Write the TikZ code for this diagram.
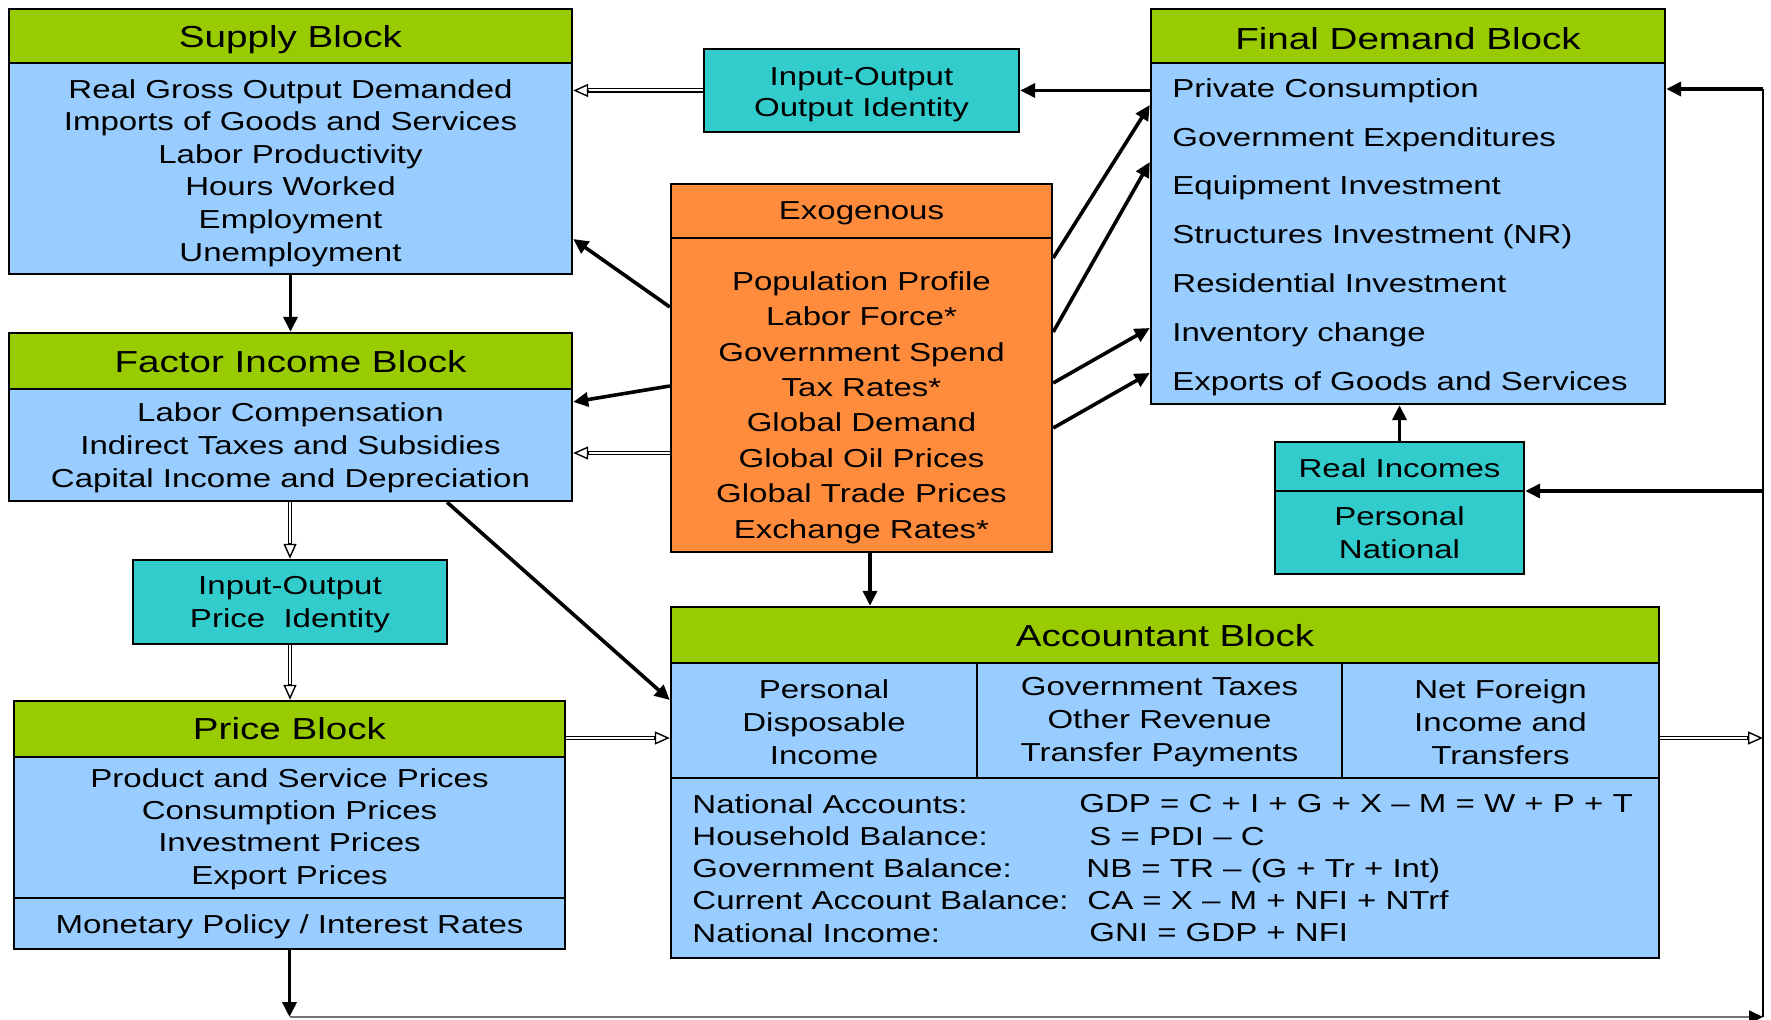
\documentclass[tikz,border=0pt]{standalone}
\usepackage{fontspec}
\setmainfont{Liberation Sans}[FakeStretch=1.27]
\usetikzlibrary{arrows.meta,fit,calc}
\definecolor{hdrgreen}{RGB}{153,204,0}
\definecolor{bodyblue}{RGB}{153,204,255}
\definecolor{tealbox}{RGB}{51,204,204}
\definecolor{orng}{RGB}{255,140,60}
\begin{document}
\begin{tikzpicture}[x=0.5pt,y=-0.5pt,
  box/.style={draw=black,line width=1.2pt,inner sep=0pt},
  hdr/.style={box,fill=hdrgreen},
  bdy/.style={box,fill=bodyblue},
  tbx/.style={box,fill=tealbox},
  obx/.style={box,fill=orng},
  sep/.style={line width=0.9pt},
  txt/.style={font=\fontsize{13}{16.3}\selectfont,inner sep=0pt,align=center,yshift=-1.7pt},
  ttl/.style={font=\fontsize{15.2}{18}\selectfont,inner sep=0pt,yshift=-1.5pt},
  arr/.style={line width=1.8pt,-{Triangle[length=7.5pt,width=7pt]}},
  dbl/.style={draw=black,line width=0.55pt,double=white,double distance=1pt,shorten >=5pt},
  otip/.style={line width=0.7pt,-{Triangle[open,length=7.5pt,width=6.5pt,fill=white]}},
]
\useasboundingbox (0,0) rectangle (1771,1020);
\newcommand\hollowarrow[2]{\draw[dbl] (#1) -- (#2); \draw[otip] ($(#2)!8pt!(#1)$) -- (#2);}

% ---------- boxes ----------
\node[bdy,fit={(9,9)(572,274)}] (supply) {};
\node[hdr,fit={(9,9)(572,63)}] (supplyhdr) {};

\node[tbx,fit={(704,49)(1019,132)}] (ioout) {};

\node[bdy,fit={(1151,9)(1665,404)}] (fd) {};
\node[hdr,fit={(1151,9)(1665,63)}] (fdhdr) {};

\node[obx,fit={(671,184)(1052,552)}] (exo) {};
\draw[sep] (exo.west |- 0,238) -- (exo.east |- 0,238);

\node[bdy,fit={(9,333)(572,501)}] (fi) {};
\node[hdr,fit={(9,333)(572,389)}] (fihdr) {};

\node[tbx,fit={(133,560)(447,644)}] (iop) {};

\node[bdy,fit={(14,701)(565,949)}] (price) {};
\node[hdr,fit={(14,701)(565,757)}] (pricehdr) {};
\draw[sep] (price.west |- 0,898) -- (price.east |- 0,898);

\node[tbx,fit={(1275,442)(1524,574)}] (ri) {};
\draw[sep] (ri.west |- 0,491) -- (ri.east |- 0,491);

\node[bdy,fit={(671,607)(1659,958)}] (acc) {};
\node[hdr,fit={(671,607)(1659,663)}] (acchdr) {};
\node[bdy,fit={(671,663)(977,778)}] (accs1) {};
\node[bdy,fit={(977,663)(1342,778)}] (accs2) {};
\node[bdy,fit={(1342,663)(1659,778)}] (accs3) {};

% ---------- texts ----------
\node[ttl] (tsup) at (290.5,37) {Supply Block};
\node[txt] (bsup) at (290.5,169.5) {Real Gross Output Demanded\\Imports of Goods and Services\\Labor Productivity\\Hours Worked\\Employment\\Unemployment};

\node[txt,font=\fontsize{13}{15.5}\selectfont] (tioout) at (861.5,91.5) {Input-Output\\Output Identity};

\node[ttl] (tfd) at (1408,35.5) {Final Demand Block};
\node[txt,align=left,anchor=west,font=\fontsize{13}{24.4}\selectfont] (bfd) at (1172,233.5) {Private Consumption\\Government Expenditures\\Equipment Investment\\Structures Investment (NR)\\Residential Investment\\Inventory change\\Exports of Goods and Services};

\node[txt] (texo) at (861.5,210) {Exogenous};
\node[txt,font=\fontsize{13}{17.7}\selectfont] (bexo) at (861.5,404) {Population Profile\\Labor Force*\\Government Spend\\Tax Rates*\\Global Demand\\Global Oil Prices\\Global Trade Prices\\Exchange Rates*};

\node[ttl] (tfi) at (290.5,359) {Factor Income Block};
\node[txt,font=\fontsize{13}{16.5}\selectfont] (bfi) at (290.5,444) {Labor Compensation\\Indirect Taxes and Subsidies\\Capital Income and Depreciation};

\node[txt,font=\fontsize{13}{16.5}\selectfont] (tiop) at (290,601.5) {Input-Output\\Price\ \ Identity};

\node[ttl] (tprice) at (289.5,726) {Price Block};
\node[txt,font=\fontsize{13}{16.2}\selectfont] (bprice) at (289.5,825.5) {Product and Service Prices\\Consumption Prices\\Investment Prices\\Export Prices};
\node[txt] (mprice) at (289.5,923) {Monetary Policy / Interest Rates};

\node[txt] (tri) at (1399.5,465) {Real Incomes};
\node[txt,font=\fontsize{13}{16.5}\selectfont] (bri) at (1399.5,529.5) {Personal\\National};

\node[ttl] (tacc) at (1165,633) {Accountant Block};
\node[txt,font=\fontsize{13}{16.5}\selectfont] (ts1) at (824,719) {Personal\\Disposable\\Income};
\node[txt,font=\fontsize{13}{16.5}\selectfont] (ts2) at (1159.5,719) {Government Taxes\\Other Revenue\\Transfer Payments};
\node[txt,font=\fontsize{13}{16.5}\selectfont] (ts3) at (1500.5,719) {Net Foreign\\Income and\\Transfers};
\node[txt,align=left,anchor=west,font=\fontsize{13}{16.1}\selectfont] (eql) at (692,865) {National Accounts:\\Household Balance:\\Government Balance:\\Current Account Balance:\\National Income:};
\node[txt,align=left,anchor=west,font=\fontsize{13}{16.1}\selectfont] (eqr) at (1079,865) {GDP = C + I + G + X – M = W + P + T\\\hspace*{5pt}S = PDI – C\\\hspace*{3.5pt}NB = TR – (G + Tr + Int)\\\hspace*{4pt}CA = X – M + NFI + NTrf\\\hspace*{5pt}GNI = GDP + NFI};

% ---------- connectors ----------
\coordinate (h1) at (ioout.west -| supply.east);
\hollowarrow{ioout.west}{h1}
\draw[arr] (ioout.east -| fd.west) -- (ioout.east);

\draw[arr] (exo.west |- 0,307) -- (supply.east |- 0,239);
\draw[arr] (exo.west |- 0,386) -- (fi.east |- 0,402);
\coordinate (e5s) at (exo.west |- 0,453);
\coordinate (e5t) at (fi.east |- 0,453);
\hollowarrow{e5s}{e5t}

\draw[arr] (supply.south) -- (supply.south |- fi.north);
\coordinate (h7) at (fi.south -| iop.north);
\coordinate (h7t) at (iop.north);
\hollowarrow{h7}{h7t}
\coordinate (h8t) at (iop.south |- price.north);
\hollowarrow{iop.south}{h8t}

\draw[arr] (fi.south -| 447,0) -- (acc.west |- 0,700);
\coordinate (h10s) at (price.east |- 0,738);
\coordinate (h10t) at (acc.west |- 0,738);
\hollowarrow{h10s}{h10t}

\draw[arr] (exo.south -| 870,0) -- (acc.north -| 870,0);

\draw[arr] (exo.east |- 0,258) -- (fd.west |- 0,105);
\draw[arr] (exo.east |- 0,332) -- (fd.west |- 0,162);
\draw[arr] (exo.east |- 0,383) -- (fd.west |- 0,328);
\draw[arr] (exo.east |- 0,428) -- (fd.west |- 0,373);

\draw[arr] (ri.north) -- (ri.north |- fd.south);

\coordinate (rt) at (1763,89);
\coordinate (rb) at (1763,1017);
\coordinate (lb) at (price.south |- rb);
\draw[arr] (price.south) -- (lb);
\draw[line width=0.8pt,draw=black!55,-{Triangle[length=7pt,width=6.5pt,color=black]}] (lb) -- (rb);
\draw[line width=1.2pt] (rb) -- (rt);
\draw[arr] (rt) -- (rt -| fd.east);
\draw[arr] (rt |- 0,491) -- (ri.east |- 0,491);
\coordinate (h15s) at (acc.east |- 0,738);
\coordinate (h15t) at (rt |- 0,738);
\hollowarrow{h15s}{h15t}
\end{tikzpicture}
\end{document}
